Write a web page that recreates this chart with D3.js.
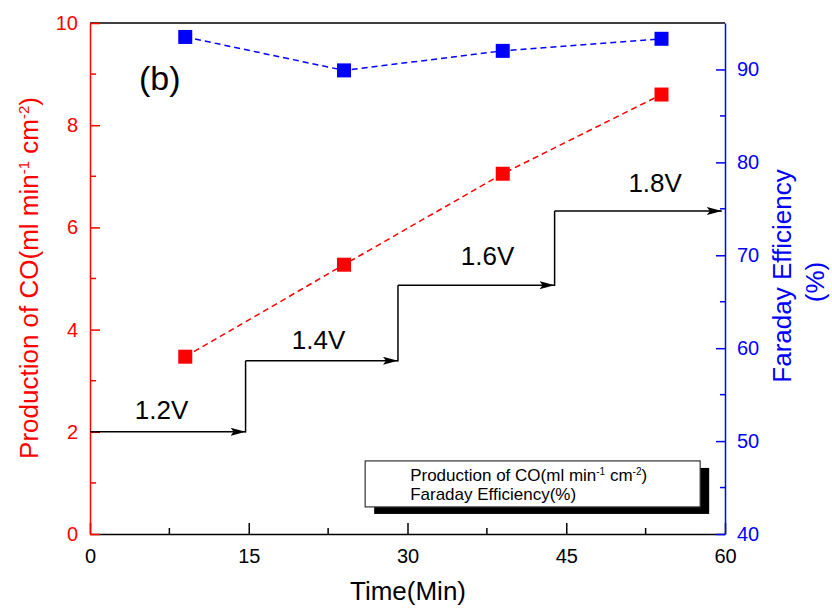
<!DOCTYPE html>
<html>
<head>
<meta charset="utf-8">
<script src="https://cdn.jsdelivr.net/npm/d3@7"></script>
<style>
  body { margin: 0; background: #fff; }
  text { font-family: "Liberation Sans", Arial, sans-serif; }
</style>
</head>
<body>
<div id="chart"></div>
<script>
// data
var times = [9, 24, 39, 54];
var coRate = [3.47, 5.27, 7.05, 8.6];        // ml min-1 cm-2
var faradayEff = [93.5, 89.9, 92.0, 93.3];   // %
// applied voltage steps: [start time, end time, level on left axis]
var stepStart = [0, 14.7, 29.1, 43.9];
var stepEnd = [14.7, 29.1, 43.9, 59.7];
var stepLevel = [2.0, 3.39, 4.87, 6.32];
var stepLabels = ['1.2V', '1.4V', '1.6V', '1.8V'];
var stepLabelX = [6.76, 21.6, 37.56, 53.4];
var stepLabelY = [2.25, 3.62, 5.26, 6.69];
var xTicks = [0, 15, 30, 45, 60];
var yTicks = [0, 2, 4, 6, 8, 10];
var y2Ticks = [40, 50, 60, 70, 80, 90];

var W = 832, H = 612;
var margins = {left: 90, right: 107, top: 23, bottom: 78};
var w = W - margins.left - margins.right,
  h = H - margins.top - margins.bottom;

var svg = d3.select('#chart').append('svg')
  .attr('width', W).attr('height', H);
var g = svg.append('g')
  .attr('transform', 'translate(' + margins.left + ',' + margins.top + ')');

var xScale = d3.scaleLinear().domain([0, 60]).range([0, w]);
var yScale = d3.scaleLinear().domain([0, 10]).range([h, 0]);
var y2Scale = d3.scaleLinear().domain([40, 95]).range([h, 0]);

// frame top line
g.append('line').attr('x1', 0).attr('x2', w).attr('y1', 0).attr('y2', 0)
  .attr('stroke', '#000').attr('stroke-width', 1.5);

// bottom axis (ticks inside)
var xAxis = g.append('g').attr('transform', 'translate(0,' + h + ')');
xAxis.call(d3.axisBottom(xScale).tickValues(xTicks).tickSizeInner(-11).tickSizeOuter(0));
d3.range(7.5, 60, 15).forEach(function(v) {
  xAxis.append('line').attr('x1', xScale(v)).attr('x2', xScale(v))
    .attr('y1', 0).attr('y2', -6).attr('stroke', '#000').attr('stroke-width', 1.5);
});

// left axis
var yAxis = g.append('g');
yAxis.call(d3.axisLeft(yScale).tickValues(yTicks).tickSizeInner(-10).tickSizeOuter(0));
d3.range(1, 10, 2).forEach(function(v) {
  yAxis.append('line').attr('x1', 0).attr('x2', 6)
    .attr('y1', yScale(v)).attr('y2', yScale(v)).attr('stroke', 'red').attr('stroke-width', 1.5);
});

// right axis
var y2Axis = g.append('g').attr('transform', 'translate(' + w + ',0)');
y2Axis.call(d3.axisRight(y2Scale).tickValues(y2Ticks).tickSizeInner(-9).tickSizeOuter(0));
d3.range(45, 95, 10).forEach(function(v) {
  y2Axis.append('line').attr('x1', 0).attr('x2', -5)
    .attr('y1', y2Scale(v)).attr('y2', y2Scale(v)).attr('stroke', 'blue').attr('stroke-width', 1.5);
});

function styleAxis(ax, color) {
  ax.selectAll('path').attr('stroke', color).attr('stroke-width', 1.5);
  ax.selectAll('.tick line').attr('stroke', color).attr('stroke-width', 1.5);
  ax.selectAll('.tick text').attr('fill', color)
    .style('font-size', '20px').style('font-family', '"Liberation Sans", Arial, sans-serif');
}
styleAxis(xAxis, '#000');
styleAxis(yAxis, 'red');
styleAxis(y2Axis, 'blue');
yAxis.selectAll('.tick text').attr('x', -12);
y2Axis.selectAll('.tick text').attr('x', 12);
xAxis.selectAll('.tick text').attr('y', 29).attr('dy', 0);

// voltage steps with arrows
svg.append('defs').append('marker')
  .attr('id', 'arrow').attr('viewBox', '0 0 10 10')
  .attr('refX', 10).attr('refY', 5)
  .attr('markerWidth', 15).attr('markerHeight', 8)
  .attr('markerUnits', 'userSpaceOnUse')
  .attr('orient', 'auto')
  .attr('preserveAspectRatio', 'none')
  .append('path').attr('d', 'M0,0 L10,5 L0,10 L2,5 Z').attr('fill', '#000');

stepLevel.forEach(function(lv, i) {
  g.append('line')
    .attr('x1', xScale(stepStart[i])).attr('x2', xScale(stepEnd[i]))
    .attr('y1', yScale(lv)).attr('y2', yScale(lv))
    .attr('stroke', '#000').attr('stroke-width', 1.5)
    .attr('marker-end', 'url(#arrow)');
  if (i > 0) {
    g.append('line')
      .attr('x1', xScale(stepStart[i])).attr('x2', xScale(stepStart[i]))
      .attr('y1', yScale(stepLevel[i - 1]) + 0.75).attr('y2', yScale(lv))
      .attr('stroke', '#000').attr('stroke-width', 1.5);
  }
  g.append('text')
    .attr('x', xScale(stepLabelX[i])).attr('y', yScale(stepLabelY[i]))
    .attr('text-anchor', 'middle')
    .style('font-size', '26px')
    .text(stepLabels[i]);
});

// series
var lineCO = d3.line()
  .x(function(d, i) {return xScale(times[i]);})
  .y(function(d) {return yScale(d);});
var lineFE = d3.line()
  .x(function(d, i) {return xScale(times[i]);})
  .y(function(d) {return y2Scale(d);});

g.append('path').datum(coRate).attr('d', lineCO)
  .attr('fill', 'none').attr('stroke', 'red').attr('stroke-width', 1.5)
  .attr('stroke-dasharray', '6,4');
g.append('path').datum(faradayEff).attr('d', lineFE)
  .attr('fill', 'none').attr('stroke', 'blue').attr('stroke-width', 1.5)
  .attr('stroke-dasharray', '6,4');

var sz = 14;
g.selectAll('.co').data(coRate).enter().append('rect')
  .attr('class', 'co')
  .attr('x', function(d, i) {return xScale(times[i]) - sz / 2;})
  .attr('y', function(d) {return yScale(d) - sz / 2;})
  .attr('width', sz).attr('height', sz).attr('fill', 'red');
g.selectAll('.fe').data(faradayEff).enter().append('rect')
  .attr('class', 'fe')
  .attr('x', function(d, i) {return xScale(times[i]) - sz / 2;})
  .attr('y', function(d) {return y2Scale(d) - sz / 2;})
  .attr('width', sz).attr('height', sz).attr('fill', 'blue');

// panel label
g.append('text').attr('x', xScale(4.63)).attr('y', yScale(8.69))
  .style('font-size', '34px').text('(b)');

// legend
var lg = g.append('g').attr('transform', 'translate(' + (xScale(26)) + ',' + (yScale(1.43)) + ')');
lg.append('rect').attr('x', 9).attr('y', 7).attr('width', 335).attr('height', 46).attr('fill', '#000');
lg.append('rect').attr('x', 0).attr('y', 0).attr('width', 335).attr('height', 46)
  .attr('fill', '#fff').attr('stroke', '#333').attr('stroke-width', 1.2);
var l1 = lg.append('text').attr('x', 45).attr('y', 20).style('font-size', '17px');
l1.append('tspan').text('Production of CO(ml min');
l1.append('tspan').attr('dy', -6).style('font-size', '10px').text('-1');
l1.append('tspan').attr('dy', 6).text(' cm');
l1.append('tspan').attr('dy', -6).style('font-size', '10px').text('-2');
l1.append('tspan').attr('dy', 6).text(')');
lg.append('text').attr('x', 45).attr('y', 39).style('font-size', '17px').text('Faraday Efficiency(%)');

// axis titles
svg.append('text')
  .attr('x', 408).attr('y', 600)
  .attr('text-anchor', 'middle').style('font-size', '26px')
  .text('Time(Min)');

var yl = svg.append('text')
  .attr('transform', 'translate(38,' + 278 + ') rotate(-90)')
  .attr('text-anchor', 'middle').attr('fill', 'red').style('font-size', '26px');
yl.append('tspan').text('Production of CO(ml min');
yl.append('tspan').attr('dy', -9).style('font-size', '15px').text('-1');
yl.append('tspan').attr('dy', 9).text(' cm');
yl.append('tspan').attr('dy', -9).style('font-size', '15px').text('-2');
yl.append('tspan').attr('dy', 9).text(')');

svg.append('text')
  .attr('transform', 'translate(791,' + 276 + ') rotate(-90)')
  .attr('text-anchor', 'middle').attr('fill', 'blue').style('font-size', '26px')
  .text('Faraday Efficiency');
svg.append('text')
  .attr('transform', 'translate(824,' + 282 + ') rotate(-90)')
  .attr('text-anchor', 'middle').attr('fill', 'blue').style('font-size', '26px')
  .text('(%)');
</script>
</body>
</html>
